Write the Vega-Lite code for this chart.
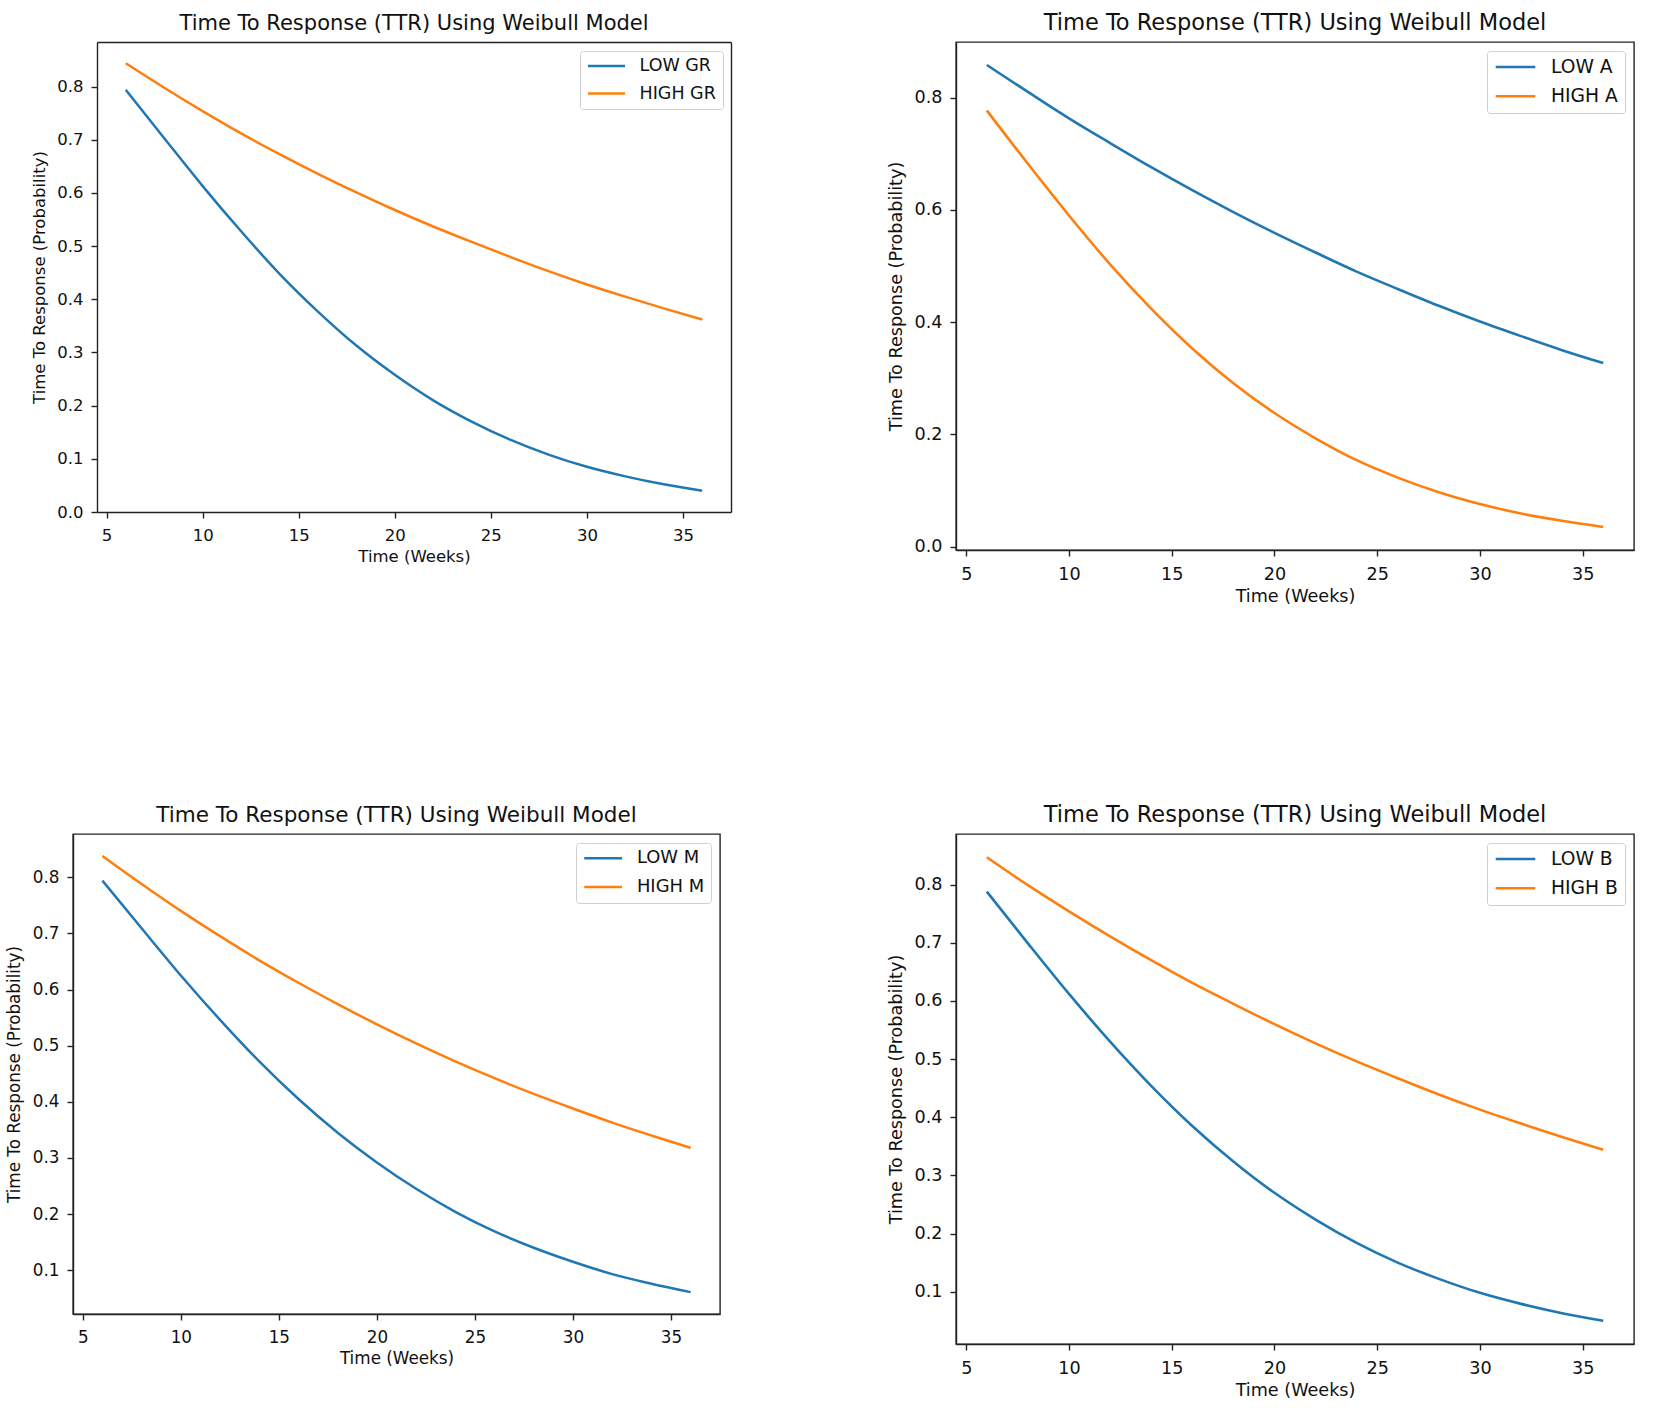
{
  "$schema": "https://vega.github.io/schema/vega-lite/v6.json",
  "padding": {"left": 5, "top": 10, "right": 10, "bottom": 4},
  "columns": 2,
  "align": "each",
  "bounds": "flush",
  "spacing": {"column": 225, "row": 284},
  "resolve": {"scale": {"color": "independent"}, "legend": {"color": "independent"}},
  "datasets": {
    "gr": [
      {"t": 6, "p": 0.794, "group": "LOW GR"}, {"t": 8, "p": 0.703, "group": "LOW GR"}, {"t": 10, "p": 0.613, "group": "LOW GR"}, {"t": 12, "p": 0.528, "group": "LOW GR"},
      {"t": 14, "p": 0.448, "group": "LOW GR"}, {"t": 16, "p": 0.377, "group": "LOW GR"}, {"t": 18, "p": 0.313, "group": "LOW GR"}, {"t": 20, "p": 0.258, "group": "LOW GR"},
      {"t": 22, "p": 0.210, "group": "LOW GR"}, {"t": 24, "p": 0.170, "group": "LOW GR"}, {"t": 26, "p": 0.136, "group": "LOW GR"}, {"t": 28, "p": 0.108, "group": "LOW GR"},
      {"t": 30, "p": 0.085, "group": "LOW GR"}, {"t": 32, "p": 0.067, "group": "LOW GR"}, {"t": 34, "p": 0.052, "group": "LOW GR"}, {"t": 36, "p": 0.040, "group": "LOW GR"},
      {"t": 6, "p": 0.844, "group": "HIGH GR"}, {"t": 8, "p": 0.798, "group": "HIGH GR"}, {"t": 10, "p": 0.754, "group": "HIGH GR"}, {"t": 12, "p": 0.712, "group": "HIGH GR"},
      {"t": 14, "p": 0.673, "group": "HIGH GR"}, {"t": 16, "p": 0.636, "group": "HIGH GR"}, {"t": 18, "p": 0.601, "group": "HIGH GR"}, {"t": 20, "p": 0.568, "group": "HIGH GR"},
      {"t": 22, "p": 0.537, "group": "HIGH GR"}, {"t": 24, "p": 0.508, "group": "HIGH GR"}, {"t": 26, "p": 0.480, "group": "HIGH GR"}, {"t": 28, "p": 0.453, "group": "HIGH GR"},
      {"t": 30, "p": 0.428, "group": "HIGH GR"}, {"t": 32, "p": 0.405, "group": "HIGH GR"}, {"t": 34, "p": 0.383, "group": "HIGH GR"}, {"t": 36, "p": 0.362, "group": "HIGH GR"}
    ],
    "a": [
      {"t": 6, "p": 0.858, "group": "LOW A"}, {"t": 8, "p": 0.810, "group": "LOW A"}, {"t": 10, "p": 0.763, "group": "LOW A"}, {"t": 12, "p": 0.719, "group": "LOW A"},
      {"t": 14, "p": 0.676, "group": "LOW A"}, {"t": 16, "p": 0.635, "group": "LOW A"}, {"t": 18, "p": 0.596, "group": "LOW A"}, {"t": 20, "p": 0.559, "group": "LOW A"},
      {"t": 22, "p": 0.524, "group": "LOW A"}, {"t": 24, "p": 0.490, "group": "LOW A"}, {"t": 26, "p": 0.459, "group": "LOW A"}, {"t": 28, "p": 0.429, "group": "LOW A"},
      {"t": 30, "p": 0.401, "group": "LOW A"}, {"t": 32, "p": 0.375, "group": "LOW A"}, {"t": 34, "p": 0.350, "group": "LOW A"}, {"t": 36, "p": 0.327, "group": "LOW A"},
      {"t": 6, "p": 0.777, "group": "HIGH A"}, {"t": 8, "p": 0.682, "group": "HIGH A"}, {"t": 10, "p": 0.590, "group": "HIGH A"}, {"t": 12, "p": 0.503, "group": "HIGH A"},
      {"t": 14, "p": 0.424, "group": "HIGH A"}, {"t": 16, "p": 0.353, "group": "HIGH A"}, {"t": 18, "p": 0.291, "group": "HIGH A"}, {"t": 20, "p": 0.238, "group": "HIGH A"},
      {"t": 22, "p": 0.193, "group": "HIGH A"}, {"t": 24, "p": 0.154, "group": "HIGH A"}, {"t": 26, "p": 0.123, "group": "HIGH A"}, {"t": 28, "p": 0.097, "group": "HIGH A"},
      {"t": 30, "p": 0.076, "group": "HIGH A"}, {"t": 32, "p": 0.059, "group": "HIGH A"}, {"t": 34, "p": 0.046, "group": "HIGH A"}, {"t": 36, "p": 0.035, "group": "HIGH A"}
    ],
    "m": [
      {"t": 6, "p": 0.794, "group": "LOW M"}, {"t": 8, "p": 0.709, "group": "LOW M"}, {"t": 10, "p": 0.625, "group": "LOW M"}, {"t": 12, "p": 0.546, "group": "LOW M"},
      {"t": 14, "p": 0.472, "group": "LOW M"}, {"t": 16, "p": 0.405, "group": "LOW M"}, {"t": 18, "p": 0.345, "group": "LOW M"}, {"t": 20, "p": 0.292, "group": "LOW M"},
      {"t": 22, "p": 0.245, "group": "LOW M"}, {"t": 24, "p": 0.204, "group": "LOW M"}, {"t": 26, "p": 0.169, "group": "LOW M"}, {"t": 28, "p": 0.140, "group": "LOW M"},
      {"t": 30, "p": 0.115, "group": "LOW M"}, {"t": 32, "p": 0.093, "group": "LOW M"}, {"t": 34, "p": 0.076, "group": "LOW M"}, {"t": 36, "p": 0.061, "group": "LOW M"},
      {"t": 6, "p": 0.838, "group": "HIGH M"}, {"t": 8, "p": 0.788, "group": "HIGH M"}, {"t": 10, "p": 0.740, "group": "HIGH M"}, {"t": 12, "p": 0.695, "group": "HIGH M"},
      {"t": 14, "p": 0.652, "group": "HIGH M"}, {"t": 16, "p": 0.612, "group": "HIGH M"}, {"t": 18, "p": 0.574, "group": "HIGH M"}, {"t": 20, "p": 0.538, "group": "HIGH M"},
      {"t": 22, "p": 0.504, "group": "HIGH M"}, {"t": 24, "p": 0.472, "group": "HIGH M"}, {"t": 26, "p": 0.442, "group": "HIGH M"}, {"t": 28, "p": 0.414, "group": "HIGH M"},
      {"t": 30, "p": 0.388, "group": "HIGH M"}, {"t": 32, "p": 0.363, "group": "HIGH M"}, {"t": 34, "p": 0.340, "group": "HIGH M"}, {"t": 36, "p": 0.318, "group": "HIGH M"}
    ],
    "b": [
      {"t": 6, "p": 0.788, "group": "LOW B"}, {"t": 8, "p": 0.699, "group": "LOW B"}, {"t": 10, "p": 0.612, "group": "LOW B"}, {"t": 12, "p": 0.530, "group": "LOW B"},
      {"t": 14, "p": 0.454, "group": "LOW B"}, {"t": 16, "p": 0.385, "group": "LOW B"}, {"t": 18, "p": 0.324, "group": "LOW B"}, {"t": 20, "p": 0.270, "group": "LOW B"},
      {"t": 22, "p": 0.224, "group": "LOW B"}, {"t": 24, "p": 0.184, "group": "LOW B"}, {"t": 26, "p": 0.150, "group": "LOW B"}, {"t": 28, "p": 0.122, "group": "LOW B"},
      {"t": 30, "p": 0.098, "group": "LOW B"}, {"t": 32, "p": 0.079, "group": "LOW B"}, {"t": 34, "p": 0.063, "group": "LOW B"}, {"t": 36, "p": 0.050, "group": "LOW B"},
      {"t": 6, "p": 0.847, "group": "HIGH B"}, {"t": 8, "p": 0.799, "group": "HIGH B"}, {"t": 10, "p": 0.754, "group": "HIGH B"}, {"t": 12, "p": 0.711, "group": "HIGH B"},
      {"t": 14, "p": 0.670, "group": "HIGH B"}, {"t": 16, "p": 0.631, "group": "HIGH B"}, {"t": 18, "p": 0.595, "group": "HIGH B"}, {"t": 20, "p": 0.560, "group": "HIGH B"},
      {"t": 22, "p": 0.527, "group": "HIGH B"}, {"t": 24, "p": 0.496, "group": "HIGH B"}, {"t": 26, "p": 0.467, "group": "HIGH B"}, {"t": 28, "p": 0.439, "group": "HIGH B"},
      {"t": 30, "p": 0.413, "group": "HIGH B"}, {"t": 32, "p": 0.389, "group": "HIGH B"}, {"t": 34, "p": 0.366, "group": "HIGH B"}, {"t": 36, "p": 0.344, "group": "HIGH B"}
    ]
  },
  "concat": [
    {
      "width": 658,
      "height": 470,
      "title": {"text": "Time To Response (TTR) Using Weibull Model", "fontSize": 21, "dx": 12},
      "data": {"name": "gr"},
      "view": {"stroke": null},
      "layer": [
        {
          "mark": {"type": "line", "interpolate": "monotone", "strokeWidth": 2.5},
          "encoding": {
            "x": {"field": "t", "type": "quantitative",
                  "scale": {"domain": [4.5, 37.5], "range": [24, 658], "nice": false, "zero": false},
                  "axis": {"orient": "bottom", "values": [5, 10, 15, 20, 25, 30, 35], "format": "d", "title": "Time (Weeks)", "labelFontSize": 16.5, "titleFontSize": 16.5}},
            "y": {"field": "p", "type": "quantitative",
                  "scale": {"domain": [0, 0.884], "nice": false, "zero": false},
                  "axis": {"orient": "left", "offset": -24, "values": [0, 0.1, 0.2, 0.3, 0.4, 0.5, 0.6, 0.7, 0.8], "format": ".1f", "title": "Time To Response (Probability)", "labelFontSize": 16.5, "titleFontSize": 16.5}},
            "color": {"field": "group", "type": "nominal", "sort": null,
                      "scale": {"domain": ["LOW GR", "HIGH GR"], "range": ["#1f77b4", "#ff7f0e"]},
                      "legend": {"labelFontSize": 17.5, "symbolSize": 1369, "clipHeight": 17, "labelOffset": 13, "rowPadding": 9.5, "padding": 6.5, "offset": 8.5}}
          }
        },
        {
          "mark": {"type": "line", "opacity": 0},
          "encoding": {
            "x": {"field": "t", "type": "quantitative", "axis": {"orient": "top", "labels": false, "ticks": false, "title": null}},
            "y": {"field": "p", "type": "quantitative", "axis": {"orient": "right", "labels": false, "ticks": false, "title": null}},
            "detail": {"field": "group"}
          }
        }
      ],
      "resolve": {"axis": {"x": "independent", "y": "independent"}}
    },
    {
      "width": 678,
      "height": 508,
      "title": {"text": "Time To Response (TTR) Using Weibull Model", "fontSize": 22.5},
      "data": {"name": "a"},
      "mark": {"type": "line", "interpolate": "monotone", "strokeWidth": 2.6},
      "encoding": {
        "x": {"field": "t", "type": "quantitative",
              "scale": {"domain": [4.5, 37.5], "nice": false, "zero": false},
              "axis": {"values": [5, 10, 15, 20, 25, 30, 35], "format": "d", "title": "Time (Weeks)", "labelFontSize": 17.6, "titleFontSize": 17.6}},
        "y": {"field": "p", "type": "quantitative",
              "scale": {"domain": [-0.006, 0.899], "nice": false, "zero": false},
              "axis": {"values": [0, 0.2, 0.4, 0.6, 0.8], "format": ".1f", "title": "Time To Response (Probability)", "labelFontSize": 17.6, "titleFontSize": 17.6}},
        "color": {"field": "group", "type": "nominal", "sort": null,
                  "scale": {"domain": ["LOW A", "HIGH A"], "range": ["#1f77b4", "#ff7f0e"]},
                  "legend": {"labelFontSize": 18.7, "symbolSize": 1568, "clipHeight": 18, "labelOffset": 14, "rowPadding": 10.2, "padding": 7, "offset": 9}}
      }
    },
    {
      "width": 647,
      "height": 480,
      "title": {"text": "Time To Response (TTR) Using Weibull Model", "fontSize": 21.5},
      "data": {"name": "m"},
      "mark": {"type": "line", "interpolate": "monotone", "strokeWidth": 2.5},
      "encoding": {
        "x": {"field": "t", "type": "quantitative",
              "scale": {"domain": [4.5, 37.5], "nice": false, "zero": false},
              "axis": {"values": [5, 10, 15, 20, 25, 30, 35], "format": "d", "title": "Time (Weeks)", "labelFontSize": 16.8, "titleFontSize": 16.8}},
        "y": {"field": "p", "type": "quantitative",
              "scale": {"domain": [0.022, 0.877], "nice": false, "zero": false},
              "axis": {"values": [0.1, 0.2, 0.3, 0.4, 0.5, 0.6, 0.7, 0.8], "format": ".1f", "title": "Time To Response (Probability)", "labelFontSize": 16.8, "titleFontSize": 16.8}},
        "color": {"field": "group", "type": "nominal", "sort": null,
                  "scale": {"domain": ["LOW M", "HIGH M"], "range": ["#1f77b4", "#ff7f0e"]},
                  "legend": {"labelFontSize": 17.9, "symbolSize": 1421, "clipHeight": 17.4, "labelOffset": 13.3, "rowPadding": 9.7, "padding": 6.6, "offset": 8.7}}
      }
    },
    {
      "width": 678,
      "height": 510,
      "title": {"text": "Time To Response (TTR) Using Weibull Model", "fontSize": 22.5},
      "data": {"name": "b"},
      "mark": {"type": "line", "interpolate": "monotone", "strokeWidth": 2.6},
      "encoding": {
        "x": {"field": "t", "type": "quantitative",
              "scale": {"domain": [4.5, 37.5], "nice": false, "zero": false},
              "axis": {"values": [5, 10, 15, 20, 25, 30, 35], "format": "d", "title": "Time (Weeks)", "labelFontSize": 17.6, "titleFontSize": 17.6}},
        "y": {"field": "p", "type": "quantitative",
              "scale": {"domain": [0.010, 0.887], "nice": false, "zero": false},
              "axis": {"values": [0.1, 0.2, 0.3, 0.4, 0.5, 0.6, 0.7, 0.8], "format": ".1f", "title": "Time To Response (Probability)", "labelFontSize": 17.6, "titleFontSize": 17.6}},
        "color": {"field": "group", "type": "nominal", "sort": null,
                  "scale": {"domain": ["LOW B", "HIGH B"], "range": ["#1f77b4", "#ff7f0e"]},
                  "legend": {"labelFontSize": 18.7, "symbolSize": 1568, "clipHeight": 18, "labelOffset": 14, "rowPadding": 10.2, "padding": 7, "offset": 9}}
      }
    }
  ],
  "config": {
    "font": "DejaVu Sans",
    "view": {"stroke": "#222222", "strokeWidth": 1.4},
    "axis": {
      "grid": false,
      "domainColor": "#222222",
      "domainWidth": 1.4,
      "tickColor": "#222222",
      "tickWidth": 1.4,
      "tickSize": 6,
      "labelColor": "#111111",
      "titleColor": "#111111",
      "titleFontWeight": "normal",
      "labelFlush": false,
      "labelOverlap": false
    },
    "axisX": {"labelPadding": 9, "titlePadding": 5},
    "axisY": {"labelPadding": 8, "titlePadding": 9},
    "title": {"fontWeight": "normal", "color": "#111111", "offset": 8, "anchor": "middle"},
    "legend": {
      "orient": "top-right",
      "title": null,
      "symbolType": "stroke",
      "symbolStrokeWidth": 2.6,
      "labelColor": "#111111",
      "strokeColor": "#d0d0d0",
      "fillColor": "#ffffff",
      "cornerRadius": 3
    }
  }
}
